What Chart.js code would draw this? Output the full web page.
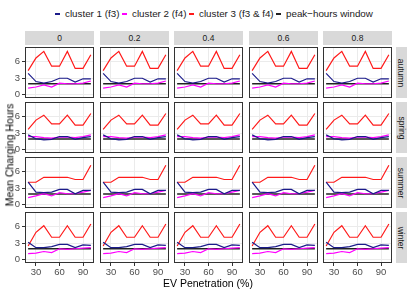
<!DOCTYPE html>
<html>
<head>
<meta charset="utf-8">
<script src="https://cdn.jsdelivr.net/npm/chart.js@4"></script>
<style>
  body { margin: 0; width: 411px; height: 294px; background: #fff; position: relative; overflow: hidden;
         font-family: "Liberation Sans", Arial, sans-serif; }
  canvas { position: absolute; }
  .strip { position: absolute; background: #d9d9d9; color: #1a1a1a; font-size: 8.5px;
           display: flex; align-items: center; justify-content: center; }
  .strip.right span { transform: rotate(90deg); white-space: nowrap; }
  .key { position: absolute; top: 13px; width: 5px; height: 2px; }
  .ltext { position: absolute; top: 8px; font-size: 9.8px; color: #1a1a1a; white-space: nowrap; }
  .title { position: absolute; font-size: 10.5px; color: #000; white-space: nowrap; }
</style>
</head>
<body>
<script>
const evPenetration = [20, 30, 40, 50, 60, 70, 80, 90, 100];
const shares = ["0", "0.2", "0.4", "0.6", "0.8"];
const seasons = ["autumn", "spring", "summer", "winter"];
const xTicks = [30, 60, 90];
const yTicks = [0, 3, 6];

// one row per season, in the order of seasons
const cluster1 = [
  [3.9, 2.4, 2.1, 2.4, 3.0, 3.0, 2.3, 2.9, 2.9],
  [2.7, 2.0, 1.8, 1.9, 2.4, 2.4, 1.9, 2.2, 2.4],
  [4.1, 2.3, 2.2, 2.3, 2.8, 2.8, 2.0, 2.6, 2.6],
  [3.2, 2.2, 2.2, 2.4, 2.8, 2.8, 2.2, 2.7, 2.6],
];
const cluster2 = [
  [1.2, 1.4, 1.8, 1.4, 2.1, 2.0, 2.0, 2.1, 2.5],
  [2.4, 2.4, 2.2, 2.1, 2.3, 2.3, 2.2, 2.4, 2.7],
  [1.3, 1.6, 2.0, 1.6, 2.2, 2.0, 2.0, 2.3, 2.6],
  [1.1, 1.2, 1.5, 1.3, 2.0, 1.9, 2.0, 2.1, 2.2],
];
const cluster3 = [
  [4.4, 6.7, 7.9, 5.2, 5.2, 7.9, 4.8, 4.8, 7.3],
  [3.7, 5.4, 6.3, 4.7, 4.7, 6.3, 4.5, 4.5, 6.6],
  [4.1, 4.1, 5.0, 5.0, 5.0, 5.0, 4.6, 4.6, 7.2],
  [2.5, 5.0, 6.2, 4.1, 4.1, 6.2, 4.1, 4.1, 6.5],
];
const peakWindow = [2.0, 1.95, 1.95, 2.0];

const seriesNames = ["cluster 1 (f3)", "cluster 2 (f4)", "cluster 3 (f3 & f4)", "peak\u2212hours window"];
const seriesColors = ["#1b1b8a", "#ff00ff", "#ff1a1a", "#222222"];

const panelW = 69, panelH = 51;
const panelLeft = (c) => Math.round(25 + c * 74.5);
const panelTop = (r) => Math.round(46.5 + r * 55);
const tickFont = { family: "Liberation Sans", size: 9.5 };

const panelBorder = {
  id: "panelBorder",
  afterDatasetsDraw(chart) {
    const a = chart.chartArea, ctx = chart.ctx;
    ctx.save();
    ctx.strokeStyle = "#333333";
    ctx.lineWidth = 1;
    ctx.strokeRect(a.left + 0.5, a.top + 0.5, a.right - a.left - 1, a.bottom - a.top - 1);
    ctx.restore();
  },
};

function addDiv(cls, text, left, top, width, height) {
  const d = document.createElement("div");
  d.className = cls;
  d.style.left = left + "px";
  d.style.top = top + "px";
  if (width != null) d.style.width = width + "px";
  if (height != null) d.style.height = height + "px";
  if (cls.includes("right")) {
    const s = document.createElement("span");
    s.textContent = text;
    d.appendChild(s);
  } else {
    d.textContent = text;
  }
  document.body.appendChild(d);
  return d;
}

function points(values) {
  return evPenetration.map((x, i) => ({ x: x, y: values[i] }));
}

// keep the axis exactly as wide/tall as asked, no extra label padding
function fixFit(s, w, h) {
  if (w != null) s.width = w;
  if (h != null) s.height = h;
  s.paddingTop = 0;
  s.paddingBottom = 0;
  s.paddingLeft = 0;
  s.paddingRight = 0;
}

function makePanel(r, c) {
  const leftCol = c === 0, bottomRow = r === seasons.length - 1;
  const axisW = leftCol ? 25 : 0, axisH = bottomRow ? 18 : 0;
  const canvas = document.createElement("canvas");
  canvas.width = panelW + axisW;
  canvas.height = panelH + axisH;
  canvas.style.left = panelLeft(c) - axisW + "px";
  canvas.style.top = panelTop(r) + "px";
  document.body.appendChild(canvas);

  const peak = evPenetration.map(() => peakWindow[r]);
  const seriesData = [cluster1[r], cluster2[r], cluster3[r], peak];

  new Chart(canvas.getContext("2d"), {
    type: "line",
    data: {
      datasets: seriesData.map((vals, i) => ({
        label: seriesNames[i],
        data: points(vals),
        borderColor: seriesColors[i],
        borderWidth: i === 3 ? 1.6 : 1.2,
        pointRadius: 0,
        tension: 0,
      })),
    },
    options: {
      responsive: false,
      animation: false,
      events: [],
      layout: { padding: 0 },
      plugins: { legend: { display: false }, tooltip: { enabled: false } },
      scales: {
        x: {
          type: "linear",
          min: 16,
          max: 104,
          afterBuildTicks: (s) => { s.ticks = xTicks.map((v) => ({ value: v })); },
          afterFit: (s) => fixFit(s, null, axisH),
          ticks: { display: bottomRow, font: tickFont, color: "#4d4d4d", padding: 1, maxRotation: 0 },
          grid: { color: "#ebebeb", drawTicks: bottomRow, tickLength: 3, tickColor: "#333333" },
          border: { display: false },
        },
        y: {
          min: -0.6,
          max: 8.7,
          afterBuildTicks: (s) => { s.ticks = yTicks.map((v) => ({ value: v })); },
          afterFit: (s) => fixFit(s, axisW, null),
          ticks: { display: leftCol, font: tickFont, color: "#4d4d4d", padding: 2 },
          grid: { color: "#ebebeb", drawTicks: leftCol, tickLength: 3, tickColor: "#333333" },
          border: { display: false },
        },
      },
    },
    plugins: [panelBorder],
  });
}

seasons.forEach((season, r) => {
  shares.forEach((share, c) => makePanel(r, c));
  addDiv("strip right", season, 396, panelTop(r), 11, panelH);
});
shares.forEach((share, c) => addDiv("strip", share, panelLeft(c), 31, panelW, 14));

// legend
const keyX = [55, 122, 189, 276];
seriesNames.forEach((name, i) => {
  const k = addDiv("key", "", keyX[i], 13, 5, 2);
  k.style.background = seriesColors[i];
  addDiv("ltext", name, keyX[i] + 10, 8);
});

// axis titles
const xt = addDiv("title", "EV Penetration (%)", 0, 277);
xt.style.left = 208 - xt.offsetWidth / 2 + "px";
const yt = addDiv("title", "Mean Charging Hours", 0, 0);
yt.style.left = 9 - yt.offsetWidth / 2 + "px";
yt.style.top = 155 - yt.offsetHeight / 2 + "px";
yt.style.transform = "rotate(-90deg)";
</script>
</body>
</html>
